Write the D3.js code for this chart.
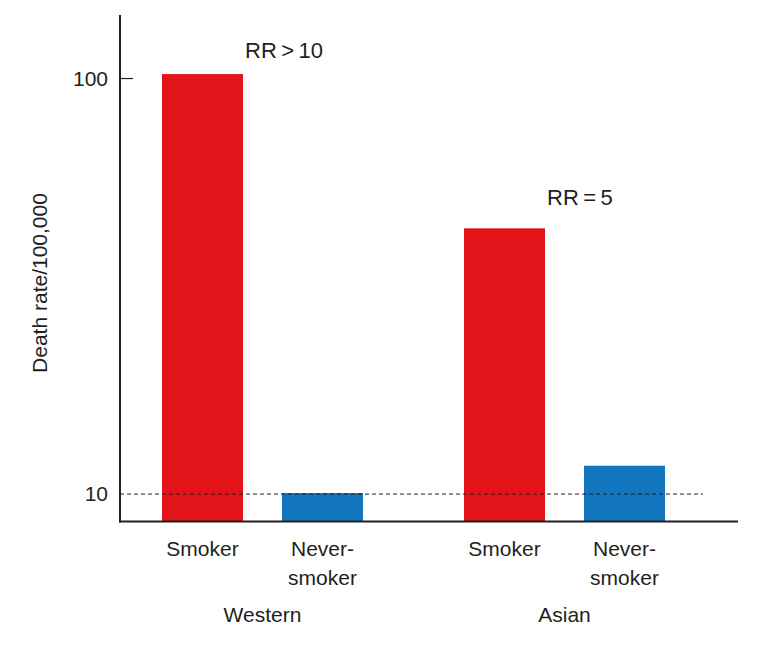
<!DOCTYPE html>
<html><head><meta charset="utf-8">
<script src="https://cdn.jsdelivr.net/npm/d3@7"></script>
<style>body{margin:0;background:#fff}text{font-family:Arial,"Liberation Sans",Helvetica,sans-serif;fill:#231f20}</style>
</head><body><svg id="c" width="770" height="647"></svg>
<script>
const groups = ["Western", "Asian"];
const types = ["Smoker", "Never-smoker"];
const typeLabels = [["Smoker"], ["Never-", "smoker"]];
const westernValues = [102.5, 10.06];
const asianValues = [43.6, 11.7];
const rrLabels = ["RR\u2009>\u200910", "RR\u2009=\u20095"];
const yTicks = [10, 100];
const refLine = 10;
const colors = ["#e31419", "#1276be"];

const svg = d3.select("#c");
const y = d3.scaleLog().domain([8.59, 142.2]).range([521.5, 15]);
const x0 = d3.scaleBand().domain(groups).range([162, 665]).paddingInner(101/302).paddingOuter(0);
const x1 = d3.scaleBand().domain(types).range([0, x0.bandwidth()]).paddingInner(0.325).paddingOuter(0);
const data = [westernValues, asianValues];

groups.forEach((g, gi) => {
  types.forEach((t, ti) => {
    const v = data[gi][ti];
    svg.append("rect")
      .attr("x", x0(g) + x1(t))
      .attr("y", y(v))
      .attr("width", x1.bandwidth())
      .attr("height", y.range()[0] - y(v))
      .attr("fill", colors[ti]);
    typeLabels[ti].forEach((line, li) => {
      svg.append("text")
        .attr("x", x0(g) + x1(t) + x1.bandwidth()/2)
        .attr("y", 556 + li*29)
        .attr("text-anchor", "middle")
        .attr("font-size", 21)
        .text(line);
    });
  });
  svg.append("text")
    .attr("x", x0(g) + x0.bandwidth()/2)
    .attr("y", 622)
    .attr("text-anchor", "middle")
    .attr("font-size", 21)
    .text(g);
  svg.append("text")
    .attr("x", x0(g) + x1("Smoker") + x1.bandwidth() + 2)
    .attr("y", y(data[gi][0]) - (gi === 0 ? 16 : 23))
    .attr("font-size", 22)
    .text(rrLabels[gi]);
});

svg.append("line")
  .attr("x1", 120).attr("x2", 703)
  .attr("y1", y(refLine)).attr("y2", y(refLine))
  .attr("stroke", "#231f20").attr("stroke-width", 1)
  .attr("stroke-dasharray", "4,3");

const yAxis = d3.axisLeft(y).tickValues(yTicks).tickFormat(d3.format("d")).tickSize(0).tickPadding(12);
const ya = svg.append("g").attr("transform", "translate(120,0)").call(yAxis);
ya.select(".domain").remove();
ya.selectAll("text").attr("font-size", 21).attr("fill", "#231f20").attr("font-family", "Arial,'Liberation Sans',sans-serif");
svg.append("line").attr("x1", 120).attr("x2", 120).attr("y1", 15).attr("y2", 522.5)
  .attr("stroke", "#231f20").attr("stroke-width", 2);
svg.append("line").attr("x1", 120).attr("x2", 133).attr("y1", y(100)).attr("y2", y(100))
  .attr("stroke", "#231f20").attr("stroke-width", 1.2);
svg.append("line").attr("x1", 119).attr("x2", 738).attr("y1", 521.5).attr("y2", 521.5)
  .attr("stroke", "#231f20").attr("stroke-width", 2);

svg.append("text")
  .attr("transform", "translate(47,283) rotate(-90)")
  .attr("text-anchor", "middle")
  .attr("font-size", 21)
  .text("Death rate/100,000");
</script></body></html>
